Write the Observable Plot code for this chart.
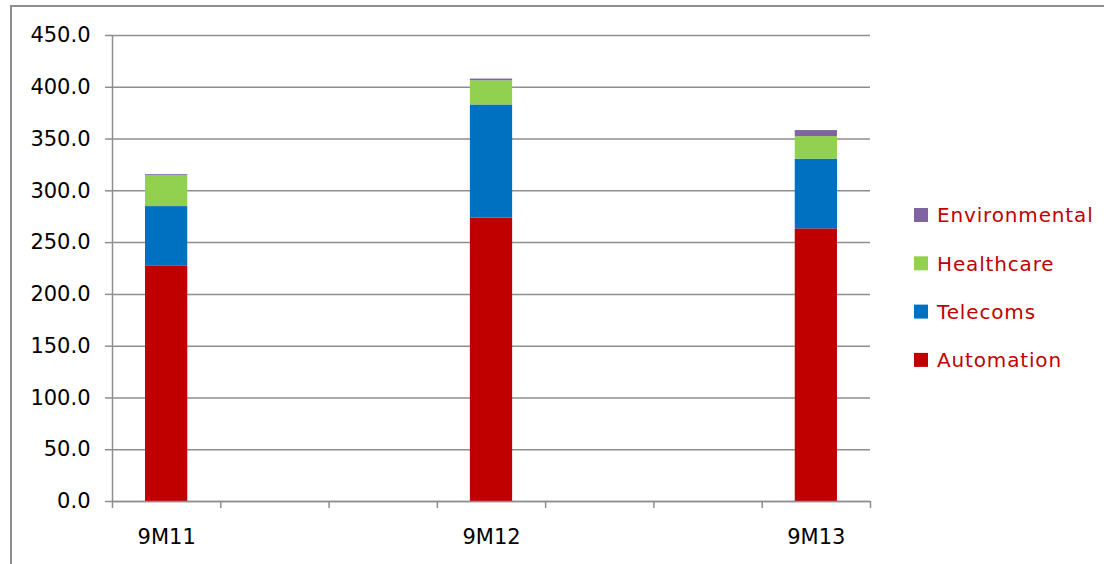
<!DOCTYPE html>
<html>
<head>
<meta charset="utf-8">
<script src="https://cdn.jsdelivr.net/npm/d3@7"></script>
<script src="https://cdn.jsdelivr.net/npm/@observablehq/plot@0.6"></script>
<style>
  body { margin: 0; background: #fff; }
  #chart { position: relative; width: 1104px; height: 564px; overflow: hidden; }
</style>
</head>
<body>
<div id="chart"></div>
<script>
// Revenue by sector, nine-month periods
const periods = ["9M11", "9M12", "9M13"];
const slots = [0, 3, 6];               // category slot of each period on the 7-slot axis
const slotCount = 7;
const sectors = ["Automation", "Telecoms", "Healthcare", "Environmental"];
const automation = [227.1, 273.6, 263.3];
const telecoms = [57.7, 109.3, 67.3];
const healthcare = [29.8, 23.4, 21.8];
const environmental = [1.0, 1.6, 5.8];
const sectorColors = ["#c00000", "#0070c0", "#92d050", "#8064a2"];
const yTicks = d3.range(0, 451, 50);

const series = [automation, telecoms, healthcare, environmental];
const gray = "#8e8e8e";

// stack the sectors within each period
const rows = [];
periods.forEach((p, i) => {
  let base = 0;
  sectors.forEach((s, j) => {
    const v = series[j][i];
    rows.push({period: p, slot: slots[i], sector: s, y1: base, y2: base + v});
    base += v;
  });
});

const barHalf = 0.195; // half bar width, in slot units

const chart = Plot.plot({
  width: 1104,
  height: 564,
  marginLeft: 112,
  marginRight: 234,
  marginTop: 35,
  marginBottom: 63,
  style: {fontFamily: "DejaVu Sans", fontSize: "21px", color: "#000", background: "#fff"},
  x: {type: "linear", domain: [0, slotCount], axis: null},
  y: {domain: [0, 450], axis: null},
  color: {domain: sectors, range: sectorColors},
  marks: [
    Plot.gridY(yTicks, {stroke: gray, strokeOpacity: 1, strokeWidth: 1.5}),
    Plot.rect(rows, {
      x1: d => d.slot + 0.5 - barHalf,
      x2: d => d.slot + 0.5 + barHalf,
      y1: "y1",
      y2: "y2",
      fill: "sector"
    }),
    Plot.ruleX([0], {stroke: gray, strokeWidth: 1.5}),
    Plot.ruleY([0], {stroke: gray, strokeWidth: 1.5}),
    Plot.axisY(yTicks, {
      tickFormat: d3.format(".1f"),
      tickSize: 7,
      tickPadding: 15,
      stroke: gray,
      strokeWidth: 1.5,
      strokeOpacity: 1,
      fill: "#000",
      fontSize: 21,
      label: null
    }),
    Plot.axisX(d3.range(slotCount + 1), {
      tickFormat: () => "",
      tickSize: 7,
      stroke: gray,
      strokeWidth: 1.5,
      strokeOpacity: 1,
      label: null
    }),
    Plot.text(periods, {
      x: (d, i) => slots[i] + 0.5,
      y: () => 0,
      dy: 36,
      text: d => d,
      fill: "#000",
      fontSize: 21,
      textAnchor: "middle",
      lineAnchor: "middle"
    })
  ]
});

const svg = d3.select(chart);

// outer chart border (top and left edges)
svg.append("path")
  .attr("d", "M11,564V6H1104")
  .attr("fill", "none")
  .attr("stroke", gray)
  .attr("stroke-width", 2);

// legend, top entry is the top of the stack
const legend = svg.append("g")
  .attr("font-family", "DejaVu Sans")
  .attr("font-size", 20)
  .attr("text-anchor", "start");
sectors.slice().reverse().forEach((s, k) => {
  const cy = 215 + k * 48.3;
  legend.append("rect")
    .attr("x", 914).attr("y", cy - 7).attr("width", 14).attr("height", 14)
    .attr("fill", sectorColors[sectors.indexOf(s)]);
  legend.append("text")
    .attr("x", 937).attr("y", cy).attr("dy", "0.36em")
    .attr("text-anchor", "start")
    .attr("letter-spacing", "0.85px")
    .attr("fill", "#c00000")
    .text(s);
});

document.getElementById("chart").appendChild(chart);
</script>
</body>
</html>
